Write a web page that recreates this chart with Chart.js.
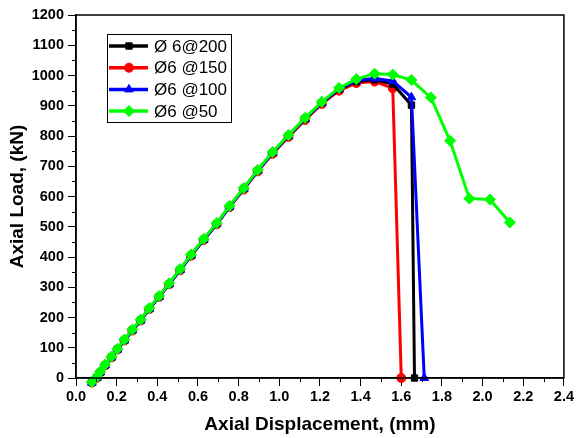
<!DOCTYPE html>
<html>
<head>
<meta charset="utf-8">
<script src="https://cdn.jsdelivr.net/npm/chart.js@4.4.1/dist/chart.umd.min.js"></script>
<style>
  html, body { margin: 0; padding: 0; background: #fff; }
  #wrap { width: 576px; height: 438px; }
</style>
</head>
<body>
<div id="wrap"><canvas id="c" width="576" height="438"></canvas></div>
<script>
// series labels
const labels = ["Ø 6@200", "Ø6 @150", "Ø6 @100", "Ø6 @50"];

// axial displacement (mm) / axial load (kN)
const dispBlack = [0.078, 0.103, 0.119, 0.143, 0.175, 0.204, 0.238, 0.277, 0.318, 0.360, 0.409, 0.458, 0.512, 0.566, 0.628, 0.692, 0.755, 0.825, 0.894, 0.967, 1.045, 1.127, 1.209, 1.294, 1.379, 1.469, 1.558, 1.650, 1.665];
const loadBlack = [-14, 2, 19, 43, 69, 95, 125, 158, 191, 229, 269, 311, 358, 406, 458, 510, 567, 626, 686, 745, 801, 857, 910, 955, 980, 986, 972, 902, 0];

const dispRed = [0.078, 0.103, 0.119, 0.143, 0.175, 0.204, 0.238, 0.277, 0.318, 0.360, 0.409, 0.458, 0.512, 0.566, 0.628, 0.692, 0.755, 0.825, 0.894, 0.967, 1.045, 1.127, 1.209, 1.294, 1.379, 1.469, 1.558, 1.600];
const loadRed = [-15, 1, 18, 42, 68, 94, 124, 157, 190, 228, 268, 310, 356, 404, 456, 508, 565, 623, 683, 741, 797, 853, 906, 950, 975, 980, 958, 0];

const dispBlue = [0.078, 0.103, 0.119, 0.143, 0.175, 0.204, 0.238, 0.277, 0.318, 0.360, 0.409, 0.458, 0.512, 0.566, 0.628, 0.692, 0.755, 0.825, 0.894, 0.967, 1.045, 1.127, 1.209, 1.294, 1.379, 1.469, 1.558, 1.650, 1.713];
const loadBlue = [-16, 1, 18, 42, 68, 94, 124, 157, 190, 228, 268, 310, 357, 405, 457, 509, 566, 625, 685, 744, 800, 857, 910, 956, 984, 990, 982, 928, 0];

const dispGreen = [0.078, 0.103, 0.119, 0.143, 0.175, 0.204, 0.238, 0.277, 0.318, 0.360, 0.409, 0.458, 0.512, 0.566, 0.628, 0.692, 0.755, 0.825, 0.894, 0.967, 1.045, 1.127, 1.209, 1.294, 1.379, 1.469, 1.558, 1.650, 1.746, 1.840, 1.935, 2.036, 2.134];
const loadGreen = [-13, 4, 21, 45, 71, 97, 127, 160, 193, 231, 271, 313, 360, 408, 460, 512, 569, 628, 688, 747, 803, 860, 913, 959, 988, 1006, 1003, 985, 927, 784, 593, 590, 514];

// tick labels
const xTicks = ["0.0", "0.2", "0.4", "0.6", "0.8", "1.0", "1.2", "1.4", "1.6", "1.8", "2.0", "2.2", "2.4"];
const yTicks = ["0", "100", "200", "300", "400", "500", "600", "700", "800", "900", "1000", "1100", "1200"];

const pts = (xs, ys) => xs.map((x, i) => ({ x, y: ys[i] }));

const series = [
  { label: labels[0], data: pts(dispBlack, loadBlack), color: "#000000", style: "rect", r: 4.5, order: 3 },
  { label: labels[1], data: pts(dispRed, loadRed), color: "#ff0000", style: "circle", r: 4.5, order: 4 },
  { label: labels[2], data: pts(dispBlue, loadBlue), color: "#0000ff", style: "triangle", r: 5, order: 2 },
  { label: labels[3], data: pts(dispGreen, loadGreen), color: "#00ff00", style: "rectRot", r: 5.5, order: 1 }
];

const tickFont = { family: "'Liberation Sans', Arial, sans-serif", size: 14.5, weight: "bold" };
const titleFont = { family: "'Liberation Sans', Arial, sans-serif", size: 19, weight: "bold" };

// frame, minor ticks and the boxed legend
const decor = {
  id: "decor",
  afterDraw(chart) {
    const { ctx, chartArea: a, scales } = chart;
    ctx.save();
    ctx.strokeStyle = "#000";
    ctx.lineWidth = 1.5;
    ctx.strokeRect(a.left, a.top, a.right - a.left, a.bottom - a.top);
    ctx.lineWidth = 1;
    ctx.beginPath();
    for (let v = 0.1; v < 2.4; v += 0.2) {
      const px = Math.round(scales.x.getPixelForValue(v)) + 0.5;
      ctx.moveTo(px, a.bottom); ctx.lineTo(px, a.bottom + 4);
    }
    for (let v = 50; v < 1200; v += 100) {
      const py = Math.round(scales.y.getPixelForValue(v)) + 0.5;
      ctx.moveTo(a.left, py); ctx.lineTo(a.left - 4, py);
    }
    ctx.stroke();

    // legend
    const bx = 107, by = 34, bw = 124, bh = 88;
    ctx.fillStyle = "#fff";
    ctx.fillRect(bx, by, bw, bh);
    ctx.lineWidth = 1;
    ctx.strokeStyle = "#000";
    ctx.strokeRect(bx + 0.5, by + 0.5, bw, bh);
    ctx.font = "17px 'Liberation Sans', Arial, sans-serif";
    ctx.textBaseline = "middle";
    chart.data.datasets.forEach((ds, i) => {
      const yy = by + 12 + i * 21.7;
      ctx.strokeStyle = ds.borderColor;
      ctx.lineWidth = 3.5;
      ctx.beginPath();
      ctx.moveTo(bx + 2, yy); ctx.lineTo(bx + 41, yy);
      ctx.stroke();
      ctx.fillStyle = ds.borderColor;
      ctx.lineWidth = 1;
      Chart.helpers.drawPoint(ctx, {
        pointStyle: ds.pointStyle, radius: ds.pointRadius, borderWidth: 1, rotation: 0
      }, bx + 22, yy);
      ctx.fillStyle = "#000";
      ctx.fillText(ds.label, bx + 47, yy + 1);
    });
    ctx.restore();
  }
};

new Chart(document.getElementById("c"), {
  type: "scatter",
  data: {
    datasets: series.map(s => ({
      label: s.label,
      data: s.data,
      showLine: true,
      borderColor: s.color,
      backgroundColor: s.color,
      borderWidth: 3,
      pointStyle: s.style,
      pointRadius: s.r,
      pointBorderWidth: 1,
      pointBackgroundColor: s.color,
      pointBorderColor: s.color,
      order: s.order,
      clip: false
    }))
  },
  options: {
    responsive: false,
    animation: false,
    layout: { padding: { top: 15, right: 10, left: 6, bottom: 0 } },
    plugins: { legend: { display: false }, tooltip: { enabled: false } },
    scales: {
      x: {
        type: "linear", min: 0, max: 2.4,
        afterBuildTicks: sc => { sc.ticks = xTicks.map(t => ({ value: parseFloat(t) })); },
        afterFit: sc => { sc.height = 60; },
        ticks: { color: "#000", font: tickFont, padding: 2, maxRotation: 0, autoSkip: false,
          callback: (v, i) => xTicks[i] },
        grid: { drawOnChartArea: false, drawTicks: true, tickLength: 8, tickColor: "#000", tickWidth: 1 },
        border: { color: "#000", width: 1.5 },
        title: { display: true, text: "Axial Displacement, (mm)", color: "#000", font: titleFont, padding: { top: 4, bottom: 2 } }
      },
      y: {
        type: "linear", min: 0, max: 1200,
        afterBuildTicks: sc => { sc.ticks = yTicks.map(t => ({ value: parseFloat(t) })); },
        afterFit: sc => { sc.width = 70; },
        ticks: { color: "#000", font: tickFont, padding: 4, autoSkip: false,
          callback: (v, i) => yTicks[i] },
        grid: { drawOnChartArea: false, drawTicks: true, tickLength: 8, tickColor: "#000", tickWidth: 1 },
        border: { color: "#000", width: 1.5 },
        title: { display: true, text: "Axial Load, (kN)", color: "#000", font: titleFont, padding: { top: 0, bottom: 2 } }
      }
    }
  },
  plugins: [decor]
});
</script>
</body>
</html>
